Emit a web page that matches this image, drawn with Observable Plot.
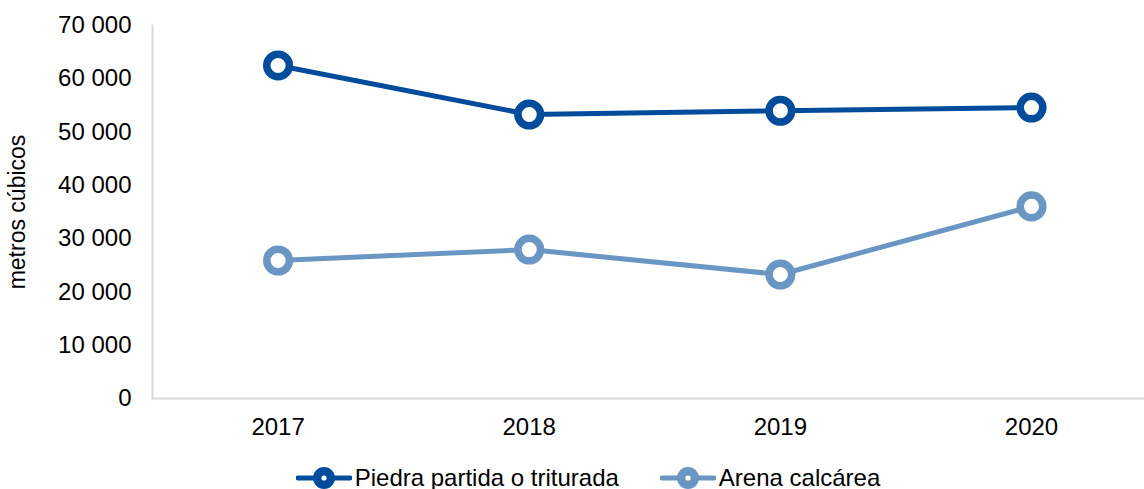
<!DOCTYPE html>
<html>
<head>
<meta charset="utf-8">
<script src="https://cdn.jsdelivr.net/npm/d3@7"></script>
<script src="https://cdn.jsdelivr.net/npm/@observablehq/plot@0.6"></script>
<style>
  html, body { margin: 0; padding: 0; background: #fff; }
  body { width: 1144px; height: 489px; overflow: hidden; font-family: "Liberation Sans", Arial, sans-serif; }
  #legend { display: flex; justify-content: center; align-items: center; height: 60px; font-size: 24px; color: #000; gap: 41px; padding-left: 32px; }
  .item { display: flex; align-items: center; }
  .item svg { margin-right: 3px; }
</style>
</head>
<body>
<div id="chart"></div>
<div id="legend"></div>
<script>
const years = [2017, 2018, 2019, 2020];
const seriesNames = ["Piedra partida o triturada", "Arena calcárea"];
const piedra = [62500, 53300, 54000, 54600];
const arena = [25900, 27950, 23270, 36050];
const yTicks = [0, 10000, 20000, 30000, 40000, 50000, 60000, 70000];
const colors = ["#004C9C", "#6A96C4"];

const data = [];
years.forEach((yr, i) => {
  data.push({year: yr, value: piedra[i], series: seriesNames[0]});
  data.push({year: yr, value: arena[i], series: seriesNames[1]});
});

const fmt = d => d3.format(",")(d).replace(/,/g, " ");

const chart = Plot.plot({
  width: 1144,
  height: 448,
  marginLeft: 152,
  marginRight: 0,
  marginTop: 25,
  marginBottom: 50,
  style: {fontFamily: "Liberation Sans, Arial, sans-serif", fontSize: "24px", color: "#000", background: "#fff", overflow: "visible"},
  x: {type: "linear", domain: [2016.5, 2020.45], ticks: years, tickFormat: d => String(d), tickSize: 0, tickPadding: 19, label: null},
  y: {domain: [0, 70000], ticks: yTicks, tickFormat: fmt, tickSize: 0, tickPadding: 21, label: null},
  color: {domain: seriesNames, range: colors},
  marks: [
    Plot.frame({anchor: "left", stroke: "#D9D9D9", strokeWidth: 2, strokeOpacity: 1}),
    Plot.frame({anchor: "bottom", stroke: "#D9D9D9", strokeWidth: 2, strokeOpacity: 1}),
    Plot.text(["metros cúbicos"], {frameAnchor: "left", textAnchor: "middle", dx: -135, rotate: -90, fontSize: 23, fill: "#000"}),
    Plot.line(data, {x: "year", y: "value", z: "series", stroke: "series", strokeWidth: 5}),
    Plot.dot(data, {x: "year", y: "value", stroke: "series", fill: "white", r: 11.3, strokeWidth: 7.5})
  ]
});
document.getElementById("chart").appendChild(chart);

const legend = document.getElementById("legend");
seriesNames.forEach((name, i) => {
  const item = document.createElement("div");
  item.className = "item";
  item.innerHTML = `<svg width="56" height="30"><line x1="2" y1="15" x2="54" y2="15" stroke="${colors[i]}" stroke-width="5" stroke-linecap="round"/><circle cx="28" cy="15" r="6.8" fill="white" stroke="${colors[i]}" stroke-width="8.4"/></svg><span>${name}</span>`;
  legend.appendChild(item);
});
</script>
</body>
</html>
